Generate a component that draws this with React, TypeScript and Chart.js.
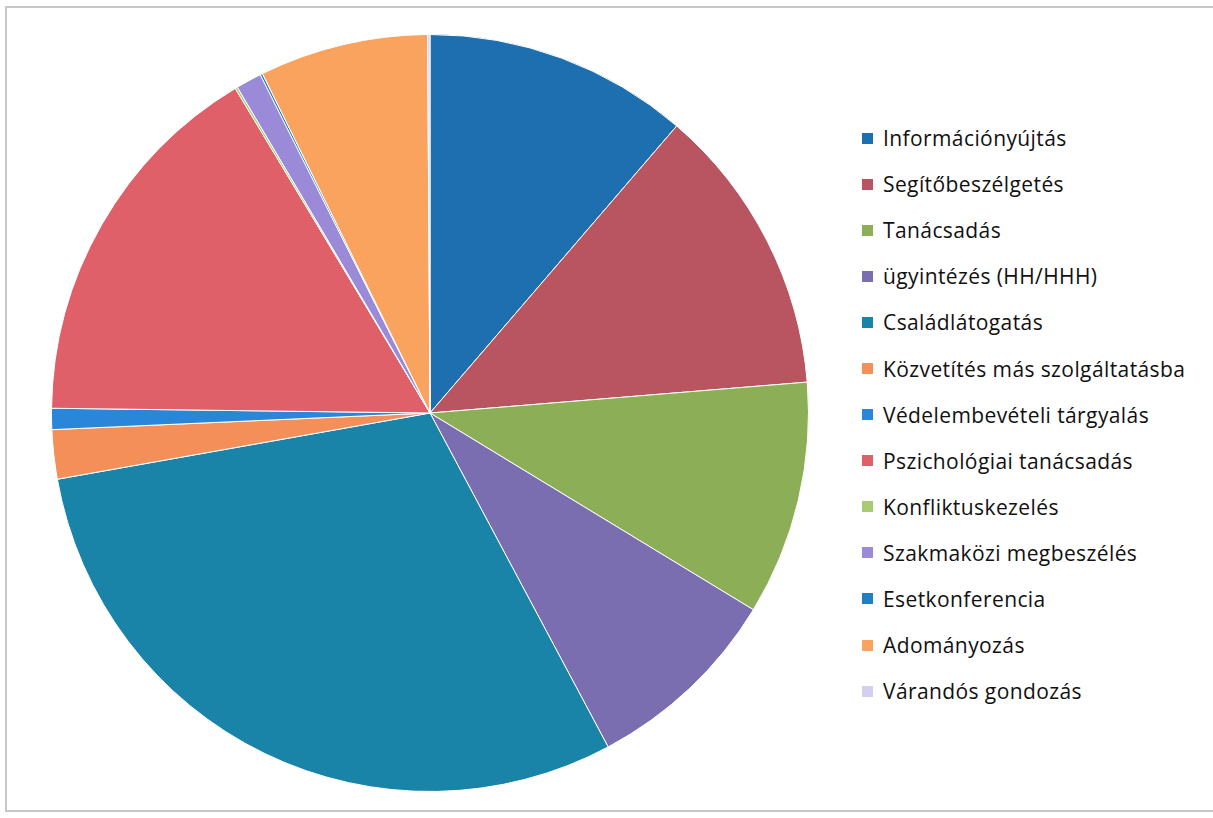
import React, { useEffect, useRef } from "react";
import { Chart, registerables } from "chart.js";

Chart.register(...registerables);

const categories = [
  "Információnyújtás",
  "Segítőbeszélgetés",
  "Tanácsadás",
  "ügyintézés (HH/HHH)",
  "Családlátogatás",
  "Közvetítés más szolgáltatásba",
  "Védelembevételi tárgyalás",
  "Pszichológiai tanácsadás",
  "Konfliktuskezelés",
  "Szakmaközi megbeszélés",
  "Esetkonferencia",
  "Adományozás",
  "Várandós gondozás",
];

const values = [11.3, 12.4, 10.0, 8.5, 30.0, 2.1, 0.9, 16.2, 0.1, 1.1, 0.1, 7.2, 0.1];

const colors = [
  "#1E6FB0",
  "#B85560",
  "#8CAE56",
  "#7A6DB0",
  "#1A84A8",
  "#F58F5A",
  "#2A86D8",
  "#E0606A",
  "#A9CB72",
  "#9A8AD8",
  "#1F7FC0",
  "#F9A35F",
  "#D4CFF0",
];

export default function App() {
  const ref = useRef<HTMLCanvasElement | null>(null);

  useEffect(() => {
    if (!ref.current) return;
    const chart = new Chart(ref.current, {
      type: "pie",
      data: {
        labels: categories,
        datasets: [
          {
            data: values,
            backgroundColor: colors,
            borderColor: "#ffffff",
            borderWidth: 1,
          },
        ],
      },
      options: {
        animation: false,
        responsive: false,
        maintainAspectRatio: false,
        layout: { padding: 0 },
        plugins: {
          legend: { display: false },
          tooltip: { enabled: false },
        },
      },
    });
    return () => chart.destroy();
  }, []);

  return (
    <div
      style={{
        position: "absolute",
        left: 0,
        top: 0,
        width: 1213,
        height: 818,
        background: "#ffffff",
        overflow: "hidden",
      }}
    >
      <div
        style={{
          position: "absolute",
          left: 5,
          top: 6,
          width: 1212,
          height: 806,
          border: "2px solid #c8c8c8",
          boxSizing: "border-box",
        }}
      />
      <canvas
        ref={ref}
        width={758}
        height={758}
        style={{ position: "absolute", left: 51, top: 34, width: 758, height: 758 }}
      />
      <div
        style={{
          position: "absolute",
          left: 862,
          top: 115,
          fontFamily: "'Open Sans', 'Noto Sans', sans-serif",
          fontSize: 21,
          letterSpacing: 0.4,
          color: "#111",
        }}
      >
        {categories.map((c, i) => (
          <div
            key={c}
            style={{ display: "flex", alignItems: "center", height: 46.1, whiteSpace: "nowrap" }}
          >
            <span
              style={{
                display: "inline-block",
                width: 11,
                height: 11,
                background: colors[i],
                marginRight: 10,
              }}
            />
            <span>{c}</span>
          </div>
        ))}
      </div>
    </div>
  );
}
